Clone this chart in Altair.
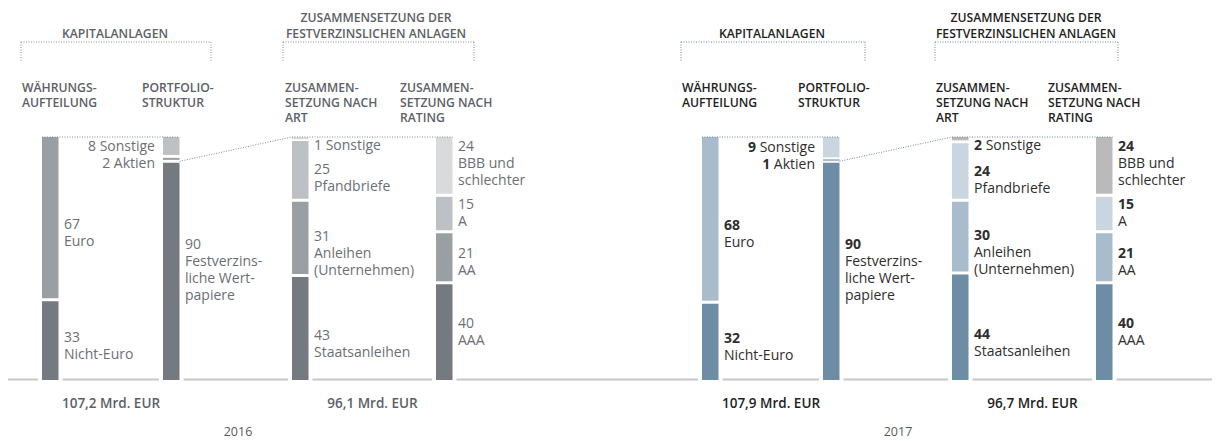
import altair as alt
import pandas as pd

# ---------------- data ----------------
years = ["2016", "2017"]
total_kapital = ["107,2 Mrd. EUR", "107,9 Mrd. EUR"]
total_fest = ["96,1 Mrd. EUR", "96,7 Mrd. EUR"]

waehrung_cats = ["Euro", "Nicht-Euro"]
waehrung_2016 = [67, 33]
waehrung_2017 = [68, 32]

portfolio_cats = ["Sonstige", "Aktien", "Festverzins-\nliche Wert-\npapiere"]
portfolio_2016 = [8, 2, 90]
portfolio_2017 = [9, 1, 90]

art_cats = ["Sonstige", "Pfandbriefe", "Anleihen\n(Unternehmen)", "Staatsanleihen"]
art_2016 = [1, 25, 31, 43]
art_2017 = [2, 24, 30, 44]

rating_cats = ["BBB und\nschlechter", "A", "AA", "AAA"]
rating_2016 = [24, 15, 21, 40]
rating_2017 = [24, 15, 21, 40]

group_titles = ["KAPITALANLAGEN", "ZUSAMMENSETZUNG DER\nFESTVERZINSLICHEN ANLAGEN"]
column_titles = ["WÄHRUNGS-\nAUFTEILUNG", "PORTFOLIO-\nSTRUKTUR",
                 "ZUSAMMEN-\nSETZUNG NACH\nART", "ZUSAMMEN-\nSETZUNG NACH\nRATING"]

# ---------------- layout / style ----------------
FONT = "Open Sans"
W, H = 1204, 433
M = 8
PX = 2.43      # pixels per percent
Y0 = 380       # page y of 0 %
BAR_W = 16.5
GAP = 1.5 / PX
MINH = 2.0 / PX
LH = 17
LABEL_SIZE = 14
HEAD_SIZE = 12.2


def v(page_y):
    return (Y0 - page_y) / PX


xs = alt.Scale(domain=[M, M + W], nice=False, zero=False)
ys = alt.Scale(domain=[v(M + H), v(M)], nice=False, zero=False)

LAYOUT = {
    "2016": dict(bars=[42, 163, 292, 436], brackets=[(21, 211), (283, 474)],
                 titles=[115, 376], cols=[22, 142, 285, 400],
                 totals=[111, 372.5], year_x=238),
    "2017": dict(bars=[702, 823, 952, 1096], brackets=[(681, 865), (935, 1118)],
                 titles=[772, 1026], cols=[682, 798, 936, 1048],
                 totals=[771, 1032.5], year_x=898),
}
PALETTE = {
    "2016": dict(dark="#747a7f", mid="#9a9fa3", light="#bdc1c4", top="#d9dadb",
                 text="#6a7075", head="#5b6166", dots="#868b8f", bold="normal"),
    "2017": dict(dark="#6d8da5", mid="#a9bccb", light="#c9d6e0", top="#bababa",
                 text="#2e2e2e", head="#1e1e1e", dots="#6f8797", bold="bold"),
}
TONES = [["mid", "dark"], ["light", "mid", "dark"],
         ["top", "light", "mid", "dark"], ["top", "light", "mid", "dark"]]
SIDES = [["r", "r"], ["l", "l", "r"], ["r", "r", "r", "r"], ["r", "r", "r", "r"]]
# vertical nudges (px) of the segment labels relative to the segment centre
NUDGE = [[15, 6], [0, 0, 0], [0, 9, 16, 17], [-2, 0, 5, 1]]

EM = {"0": .572, "1": .572, "2": .572, "3": .572, "4": .572, "5": .572, "6": .572,
      "7": .572, "8": .572, "9": .572, " ": .26, "S": .549, "o": .604, "n": .613,
      "s": .477, "t": .353, "i": .253, "g": .551, "e": .561, "A": .633, "k": .525}


def tw(s):
    return sum(EM.get(c, .56) for c in s) * LABEL_SIZE


def top_of(center_page, size):
    # vega 'top' baseline sits 0.79em below y; 'middle' 0.30em
    return center_page - 0.49 * size


series = {
    "2016": [waehrung_2016, portfolio_2016, art_2016, rating_2016],
    "2017": [waehrung_2017, portfolio_2017, art_2017, rating_2017],
}
cats_all = [waehrung_cats, portfolio_cats, art_cats, rating_cats]

bars, texts, dots, base = [], [], [], []


def add_text(x, page_y, text, color, align, weight, size, lh, bl="top"):
    texts.append(dict(x=x, y=v(page_y), text=text, color=color, align=align,
                      weight=weight, size=size, lh=lh, base=bl))


for yi, year in enumerate(years):
    L = LAYOUT[year]
    P = PALETTE[year]
    for j, (cats, vals) in enumerate(zip(cats_all, series[year])):
        x0 = L["bars"][j]
        x1 = x0 + BAR_W
        n = len(vals)
        prev_bottom = {"l": 137.5, "r": 137.5}
        for i in range(n):
            t = 100 - sum(vals[:i])
            b = t - vals[i]
            tv = t - (GAP if i > 0 else 0)
            bv = b + (GAP if i < n - 1 else 0)
            if tv - bv < MINH:
                mid = (t + b) / 2
                tv = min(100, mid + MINH / 2)
                bv = tv - MINH
            bars.append(dict(x=x0, x2=x1, y=tv, y2=bv, color=P[TONES[j][i]]))

            side = SIDES[j][i]
            inline = vals[i] <= 10
            nlines = 1 if inline else 1 + len(cats[i].split("\n"))
            mid_page = Y0 - (t + b) / 2 * PX + NUDGE[j][i]
            top_page = max(mid_page - nlines * LH / 2, prev_bottom[side])
            prev_bottom[side] = top_page + nlines * LH
            xt = x1 + 5.5 if side == "r" else x0 - 8
            align = "left" if side == "r" else "right"
            num = str(vals[i])
            y1 = top_of(top_page + LH / 2, LABEL_SIZE)
            name = cats[i]
            if inline:
                if P["bold"] == "normal":
                    add_text(xt, y1, f"{num} {name}", P["text"], align, "normal", LABEL_SIZE, LH)
                elif side == "r":
                    add_text(xt, y1, num, P["text"], "left", "bold", LABEL_SIZE, LH)
                    add_text(xt + tw(num + " "), y1, name, P["text"], "left", "normal", LABEL_SIZE, LH)
                else:
                    add_text(xt, y1, name, P["text"], "right", "normal", LABEL_SIZE, LH)
                    add_text(xt - tw(" " + name), y1, num, P["text"], "right", "bold", LABEL_SIZE, LH)
            else:
                if P["bold"] == "normal":
                    add_text(xt, y1, num + "\n" + name, P["text"], align, "normal", LABEL_SIZE, LH)
                else:
                    add_text(xt, y1, num, P["text"], align, "bold", LABEL_SIZE, LH)
                    add_text(xt, y1 + LH, name, P["text"], align, "normal", LABEL_SIZE, LH)

    # connectors between bars
    b = L["bars"]
    fest_top = 100 - sum(series[year][1][:2])
    dots.append(dict(x=b[0], x2=b[1] + BAR_W, y=100, y2=100, color=P["dots"]))
    dots.append(dict(x=b[1] + BAR_W, x2=b[2], y=fest_top, y2=100, color=P["dots"]))
    dots.append(dict(x=b[2], x2=b[3] + BAR_W, y=100, y2=100, color=P["dots"]))

    # header brackets
    for (xl, xr) in L["brackets"]:
        dots.append(dict(x=xl, x2=xr, y=v(42), y2=v(42), color=P["dots"]))
        dots.append(dict(x=xl, x2=xl, y=v(42), y2=v(62), color=P["dots"]))
        dots.append(dict(x=xr, x2=xr, y=v(42), y2=v(62), color=P["dots"]))

    # header titles (multi-line texts)
    for g, title in enumerate(group_titles):
        nl = len(title.split("\n"))
        first_bl = 38 - (nl - 1) * 16
        add_text(L["titles"][g], first_bl - 0.79 * HEAD_SIZE, title, P["head"], "center", 600, HEAD_SIZE, 16)
    for c, title in enumerate(column_titles):
        add_text(L["cols"][c], 92 - 0.79 * HEAD_SIZE, title, P["head"], "left", 600, HEAD_SIZE, 15)

    # totals and year
    add_text(L["totals"][0], 408, total_kapital[yi], P["head"], "center", 600, 13.5, LH, "alphabetic")
    add_text(L["totals"][1], 408, total_fest[yi], P["head"], "center", 600, 13.5, LH, "alphabetic")
    add_text(L["year_x"], 436, year, "#5a5a5a", "center", "normal", 12.5, LH, "alphabetic")

# baseline with gaps around the bars
all_bars = sorted(LAYOUT["2016"]["bars"] + LAYOUT["2017"]["bars"])
edges = [6] + [e for bx in all_bars for e in (bx - 4, bx + BAR_W + 4)] + [1220]
for k in range(0, len(edges), 2):
    base.append(dict(x=edges[k], x2=edges[k + 1], y=v(379.5)))

bars_df = pd.DataFrame(bars)
texts_df = pd.DataFrame(texts)
dots_df = pd.DataFrame(dots)
base_df = pd.DataFrame(base)

X = lambda f="x": alt.X(f"{f}:Q", scale=xs, axis=None)
Y = lambda f="y": alt.Y(f"{f}:Q", scale=ys, axis=None)

baseline = alt.Chart(base_df).mark_rule(color="#c8c8c8", strokeWidth=2).encode(
    x=X(), x2="x2:Q", y=Y())

bar_layer = alt.Chart(bars_df).mark_rect().encode(
    x=X(), x2="x2:Q", y=Y(), y2="y2:Q", color=alt.Color("color:N", scale=None))

dot_layer = alt.Chart(dots_df).mark_rule(strokeDash=[1, 1.5], strokeWidth=1).encode(
    x=X(), x2="x2:Q", y=Y(), y2="y2:Q", color=alt.Color("color:N", scale=None))

layers = [baseline, bar_layer, dot_layer]
keys = ["align", "weight", "size", "lh", "base"]
for (align, weight, size, lh, bl), grp in texts_df.groupby(keys, sort=False):
    layers.append(
        alt.Chart(grp.reset_index(drop=True)).mark_text(
            align=align, baseline=bl, font=FONT, fontSize=float(size), fontWeight=weight,
            lineBreak="\n", lineHeight=float(lh)
        ).encode(x=X(), y=Y(), text="text:N", color=alt.Color("color:N", scale=None))
    )

chart = alt.layer(*layers).properties(
    width=W, height=H, padding=0, autosize=alt.AutoSizeParams(type="none")
).configure_view(stroke=None)

chart.save("out.html", embed_options={"renderer": "svg", "actions": False})
